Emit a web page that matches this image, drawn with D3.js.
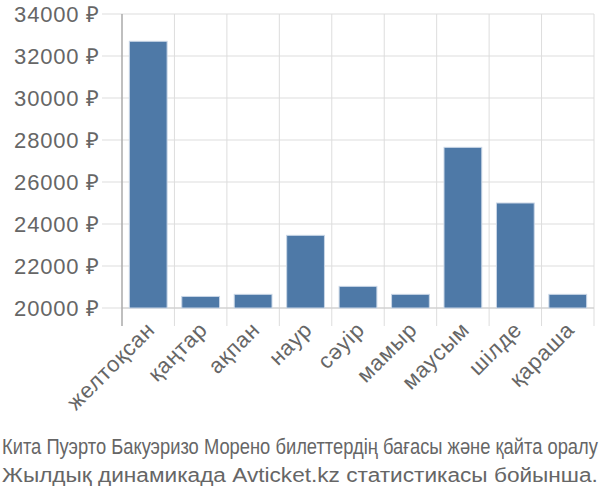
<!DOCTYPE html>
<html><head><meta charset="utf-8">
<script src="https://cdn.jsdelivr.net/npm/d3@7"></script>
<style>body{margin:0;background:#fff}svg{display:block}</style>
</head><body>
<svg id="c" width="600" height="500"></svg>
<script>
const categories = ["желтоқсан","қаңтар","ақпан","наур","сәуір","мамыр","маусым","шілде","қараша"];
const prices = [32700, 20550, 20650, 23460, 21030, 20650, 27650, 25000, 20650];
const yTicks = [20000, 22000, 24000, 26000, 28000, 30000, 32000, 34000];
const titleLines = ["Кита Пуэрто Бакуэризо Морено билеттердің бағасы және қайта оралу", "Жылдық динамикада Avticket.kz статистикасы бойынша."];

const svg = d3.select("#c");
const L = 122, R = 594, T = 14, B = 308;
const font = "'Liberation Sans', Arial, sans-serif";
const x = d3.scaleBand().domain(categories).range([L, R]).paddingInner(0.28).paddingOuter(0.14);
const y = d3.scaleLinear().domain([20000, 34000]).range([B, T]);

// horizontal grid + y labels
const gy = svg.append("g");
gy.selectAll("line").data(yTicks).join("line")
  .attr("x1", 102).attr("x2", R).attr("y1", d => y(d)).attr("y2", d => y(d))
  .attr("stroke", "#dddddd").attr("stroke-width", 1);
gy.selectAll("text").data(yTicks).join("text")
  .attr("x", 100).attr("y", d => y(d)).attr("dy", "0.35em")
  .attr("text-anchor", "end").attr("font-family", font).attr("font-size", 22)
  .attr("letter-spacing", 0.8)
  .attr("fill", "#666").text(d => d + " ₽");

// vertical grid at band boundaries
const bounds = categories.map(c => x(c) - x.step() * x.paddingInner() / 2);
bounds.push(R);
svg.append("g").selectAll("line").data(bounds.slice(1)).join("line")
  .attr("x1", d => d).attr("x2", d => d).attr("y1", T).attr("y2", 326)
  .attr("stroke", "#dddddd").attr("stroke-width", 1);

// bottom axis line
svg.append("line").attr("x1", L).attr("x2", R).attr("y1", B).attr("y2", B)
  .attr("stroke", "#cccccc").attr("stroke-width", 1);
// left axis line
svg.append("line").attr("x1", L).attr("x2", L).attr("y1", T).attr("y2", 326)
  .attr("stroke", "#aaaaaa").attr("stroke-width", 1.5);

// bars
svg.append("g").selectAll("rect").data(categories).join("rect")
  .attr("x", c => x(c)).attr("width", x.bandwidth())
  .attr("y", (c, i) => y(prices[i])).attr("height", (c, i) => B - y(prices[i]))
  .attr("fill", "#4e79a7").attr("stroke", "#c9d6e6").attr("stroke-width", 1);

// x labels
svg.append("g").selectAll("text").data(categories).join("text")
  .attr("transform", c => `translate(${x(c) + x.bandwidth() / 2 + 8},${331}) rotate(-45)`)
  .attr("text-anchor", "end").attr("font-family", font).attr("font-size", 22)
  .attr("letter-spacing", 0.8)
  .attr("fill", "#666").text(c => c);

// footer (scaled to fit the width)
function fitLine(txt, yPos, size) {
  const t = svg.append("text").attr("x", 0).attr("y", 0).attr("font-family", font)
    .attr("font-size", size).attr("fill", "#666").text(txt);
  const w = t.node().getComputedTextLength();
  const s = 596 / w;
  t.attr("transform", `translate(2,${yPos}) scale(${s},1)`);
}
fitLine(titleLines[0], 454, 22);
fitLine(titleLines[1], 482, 21);
</script>
</body></html>
